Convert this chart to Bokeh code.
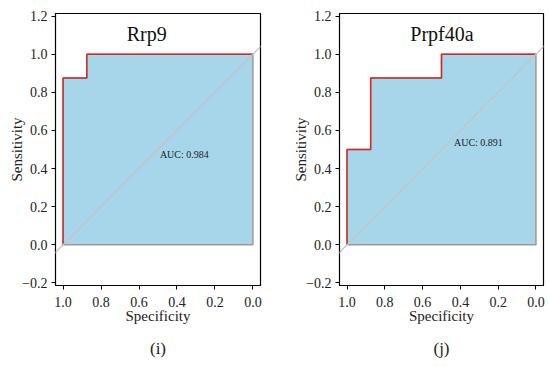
from bokeh.plotting import figure
from bokeh.layouts import row
from bokeh.models import Range1d, FixedTicker, Slope, Title
from bokeh.core.properties import value
from bokeh.embed import file_html
from bokeh.resources import INLINE

# ---- data ----
tick_vals = [-0.2, 0.0, 0.2, 0.4, 0.6, 0.8, 1.0, 1.2]
x_tick_vals = [1.0, 0.8, 0.6, 0.4, 0.2, 0.0]

rrp9_spec = [1.0, 1.0, 0.875, 0.875, 0.0]
rrp9_sens = [0.0, 0.875, 0.875, 1.0, 1.0]
rrp9_auc = "AUC: 0.984"

prpf_spec = [1.0, 1.0, 0.875, 0.875, 0.5, 0.5, 0.0]
prpf_sens = [0.0, 0.5, 0.5, 0.875, 0.875, 1.0, 1.0]
prpf_auc = "AUC: 0.891"

SERIF = "Liberation Serif"
FILL = "#a7d5ea"
RED = "#e0261c"


def fmt(v):
    s = "%.1f" % v
    return s.replace("-", "\u2212")


def make_panel(name, spec, sens, auc, auc_xy, caption, fw, mb_right):
    p = figure(frame_width=fw, frame_height=272,
               x_range=Range1d(1.04, -0.04), y_range=Range1d(-0.214, 1.214),
               output_backend="svg", toolbar_location=None,
               min_border_left=40, min_border_right=mb_right,
               min_border_top=13, min_border_bottom=70)
    p.background_fill_color = "white"
    p.border_fill_color = "white"
    p.outline_line_color = "black"
    p.outline_line_width = 1.2
    p.xgrid.visible = False
    p.ygrid.visible = False

    # polygon
    poly_x = list(spec) + [0.0]
    poly_y = list(sens) + [0.0]
    p.patch(poly_x, poly_y, fill_color=FILL, line_color="#9a9a9a", line_width=1.5)
    # diagonal
    p.add_layout(Slope(gradient=-1, y_intercept=1, line_color="#c4c4c4", line_width=1.2))
    # ROC curve
    p.line(spec, sens, line_color=RED, line_width=1.5)

    # AUC text
    p.text(x=[auc_xy[0]], y=[auc_xy[1]], text=[auc], text_font=value(SERIF),
           text_font_size="10px", text_align="left", text_baseline="middle",
           text_color="#222222")
    # panel title inside
    p.text(x=[0.665], y=[1.104], text=[name], text_font=value(SERIF),
           text_font_size="20px", text_align="left", text_baseline="alphabetic",
           text_color="#111111")

    # axes
    for ax, ticks in ((p.xaxis[0], x_tick_vals), (p.yaxis[0], tick_vals)):
        ax.ticker = FixedTicker(ticks=ticks)
        ax.major_label_overrides = {t: fmt(t) for t in ticks}
        ax.major_tick_in = 0
        ax.major_tick_out = 4
        ax.minor_tick_line_color = None
        ax.axis_line_color = "black"
        ax.major_tick_line_color = "black"
        ax.major_label_text_font = SERIF
        ax.major_label_text_font_size = "14px"
        ax.major_label_text_color = "#222222"
        ax.axis_label_text_font = SERIF
        ax.axis_label_text_font_size = "15px"
        ax.axis_label_text_font_style = "normal"
        ax.axis_label_text_color = "#222222"
    p.xaxis.axis_label = "Specificity"
    p.yaxis.axis_label = "Sensitivity"
    p.xaxis.major_label_standoff = 7
    p.yaxis.major_label_standoff = 4
    p.xaxis.axis_label_standoff = -2
    p.yaxis.axis_label_standoff = -6

    t = Title(text=caption, align="center", text_font=SERIF, text_font_size="17px",
              text_font_style="normal", text_color="#222222", standoff=21)
    p.add_layout(t, "below")
    return p


p1 = make_panel("Rrp9", rrp9_spec, rrp9_sens, rrp9_auc, (0.49, 0.473), "(i)", 205, 24)
p2 = make_panel("Prpf40a", prpf_spec, prpf_sens, prpf_auc, (0.434, 0.537), "(j)", 204, 4)
p1.margin = (0, 0, 0, 6)
p2.margin = (0, 0, 0, 6)

layout = row(p1, p2)
open("out.html", "w").write(file_html(layout, INLINE))
